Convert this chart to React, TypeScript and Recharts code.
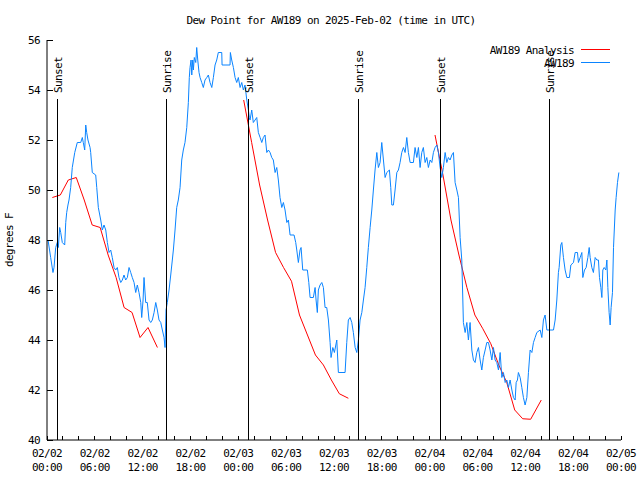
import React from 'react';
import { LineChart, Line, XAxis, YAxis, ReferenceLine } from 'recharts';

// ---- Data (hours since 2025-02-02 00:00 UTC) ----
const obsHours = [
  0.13, 0.46, 0.75, 0.88, 1.09, 1.29, 1.42, 1.59, 1.72, 1.92, 2.22, 2.35, 2.47, 2.63, 2.76, 2.97,
  3.17, 3.48, 3.8, 4.02, 4.23, 4.43, 4.55, 4.73, 4.86, 4.98, 5.14, 5.4, 5.48, 5.68, 6.11, 6.24,
  6.44, 6.74, 6.94, 7.15, 7.37, 7.57, 7.78, 7.99, 8.19, 8.41, 8.62, 8.82, 9.03, 9.25, 9.45, 9.66,
  9.87, 10.08, 10.29, 10.5, 10.7, 10.92, 11.13, 11.33, 11.54, 11.76, 11.88, 12.05, 12.17, 12.38,
  12.58, 12.8, 13.01, 13.21, 13.43, 13.64, 13.84, 14.05, 14.27, 14.47, 14.68, 14.81, 14.93, 15.09,
  15.31, 15.52, 15.72, 15.85, 16.06, 16.27, 16.47, 16.69, 16.9, 17.1, 17.31, 17.53, 17.73, 17.85,
  17.94, 18.07, 18.16, 18.28, 18.36, 18.48, 18.66, 18.78, 18.91, 19.07, 19.2, 19.41, 19.61, 19.82,
  20.04, 20.24, 20.45, 20.67, 20.87, 21.08, 21.29, 21.49, 21.92, 21.96, 22.96, 23.0, 23.17, 23.38,
  23.59, 23.8, 24.0, 24.22, 24.43, 24.63, 24.84, 25.06, 25.26, 25.38, 25.47, 25.68, 25.88, 26.1,
  26.31, 26.51, 26.73, 26.94, 27.14, 27.35, 27.57, 27.77, 27.98, 28.19, 28.39, 28.61, 28.82, 29.02,
  29.23, 29.45, 29.65, 29.86, 30.08, 30.28, 30.49, 30.99, 31.2, 31.33, 31.53, 31.74, 31.87, 32.08,
  32.66, 32.84, 33.0, 33.41, 33.63, 33.75, 33.91, 34.04, 34.25, 34.47, 34.67, 34.88, 35.09, 35.3,
  35.51, 35.63, 35.85, 36.05, 36.35, 36.55, 37.39, 37.6, 37.8, 38.02, 38.23, 38.43, 38.65, 38.86,
  39.06, 39.27, 39.49, 39.69, 39.9, 40.11, 40.31, 40.53, 40.74, 40.94, 41.15, 41.37, 41.57, 41.78,
  41.99, 42.2, 42.41, 42.62, 42.95, 43.12, 43.25, 43.45, 43.66, 43.88, 44.08, 44.29, 44.5, 44.71,
  44.92, 45.13, 45.33, 45.55, 45.96, 46.17, 46.39, 46.59, 46.8, 47.01, 47.21, 47.43, 47.64, 47.84,
  48.06, 48.27, 48.47, 48.68, 48.9, 49.1, 49.31, 49.52, 49.72, 49.94, 50.15, 50.35, 50.56, 50.78,
  50.98, 51.19, 51.41, 51.61, 51.82, 52.03, 52.16, 52.23, 52.45, 52.66, 52.86, 53.07, 53.29, 53.49,
  53.7, 53.91, 54.12, 54.33, 54.54, 54.74, 54.96, 55.17, 55.37, 55.58, 55.8, 56.0, 56.21, 56.42,
  56.63, 56.84, 57.05, 57.25, 57.47, 57.68, 57.88, 58.09, 58.31, 58.51, 58.72, 58.85, 59.01, 59.13,
  59.35, 59.56, 59.76, 59.97, 60.19, 60.39, 60.6, 60.82, 61.02, 61.23, 61.44, 61.86, 62.07, 62.27,
  62.48, 62.7, 63.53, 63.74, 63.95, 64.15, 64.24, 64.45, 64.58, 64.78, 64.99, 65.21, 65.53, 65.71,
  66.04, 66.25, 66.54, 66.66, 66.88, 67.09, 67.21, 67.42, 67.63, 67.84, 68.01, 68.13, 68.34, 68.54,
  68.76, 68.97, 69.17, 69.3, 69.47, 69.6, 69.72, 69.89, 70.1, 70.23, 70.35, 70.51, 70.64, 70.76,
  70.93, 71.06, 71.27, 71.39, 71.56, 71.73,
];
const obsValues = [
  48.0, 47.3, 46.7, 46.9, 47.7, 47.9, 47.7, 48.5, 48.3, 47.9, 47.8, 48.7, 49.1, 49.4, 49.6, 50.1,
  50.9, 51.5, 51.9, 51.9, 51.9, 52.1, 51.9, 51.6, 52.6, 52.3, 52.0, 51.7, 51.5, 50.7, 50.6, 50.1,
  49.3, 48.8, 48.4, 48.6, 48.4, 47.9, 47.5, 47.6, 47.3, 46.9, 46.8, 46.9, 46.5, 46.3, 46.4, 46.6,
  46.4, 46.5, 46.9, 46.7, 46.5, 46.3, 45.9, 46.2, 45.9, 45.5, 44.9, 45.6, 46.5, 45.5,
  45.5, 44.8, 44.7, 44.8, 45.1, 45.5, 45.2, 44.8, 44.7, 44.4, 44.1, 43.7, 45.2, 45.5,
  46.0, 46.6, 47.2, 47.6, 48.4, 49.3, 49.6, 50.1, 51.2, 51.6, 51.9, 52.5, 53.5, 54.5,
  54.9, 55.2, 54.6, 55.2, 54.8, 55.3, 55.1, 55.7, 55.2, 54.7, 54.5, 54.3, 54.1, 54.4,
  54.5, 54.6, 54.3, 54.1, 54.5, 55.0, 55.2, 55.5, 55.5, 55.0, 55.0, 55.5, 55.2, 54.9,
  54.5, 54.3, 54.5, 54.1, 54.3, 54.0, 54.2, 53.6, 53.2, 52.9, 52.8, 53.2, 52.7, 52.8,
  52.9, 52.3, 52.1, 51.9, 52.1, 52.2, 51.5, 51.6, 51.5, 51.3, 51.2, 50.7, 50.9, 50.4,
  49.7, 49.3, 49.5, 49.2, 48.7, 48.8, 48.2, 48.2, 47.9, 47.6, 47.1, 47.6, 47.7, 46.8,
  46.8, 46.3, 45.7, 45.7, 46.1, 45.6, 45.1, 46.0, 46.2, 46.3, 46.1, 45.3, 45.3, 44.8,
  43.9, 43.3, 43.7, 43.5, 44.0, 42.7, 42.7, 43.9, 44.8, 44.9, 44.7, 44.3, 43.7, 43.5,
  44.0, 44.8, 45.1, 45.6, 46.1, 46.9, 47.7, 48.5, 49.2, 50.0, 50.8, 51.5, 50.9, 51.1,
  51.9, 51.2, 50.5, 50.7, 50.8, 50.1, 49.4, 49.4, 50.0, 50.7, 50.8, 51.1, 51.5, 51.7,
  51.5, 52.1, 51.5, 51.1, 51.1, 51.7, 51.3, 51.7, 50.9, 51.5, 51.7, 51.1, 51.3, 50.9,
  51.2, 51.1, 51.5, 51.7, 51.8, 51.5, 50.9, 50.5, 50.9, 51.5, 51.1, 51.3, 51.2, 51.4,
  51.5, 50.3, 50.0, 49.7, 48.1, 47.2, 45.6, 44.7, 44.3, 44.7, 44.0, 44.7, 43.6, 43.2,
  43.1, 43.5, 43.7, 43.2, 42.8, 43.3, 43.6, 43.9, 43.9, 43.6, 43.2, 43.7, 43.2, 43.1,
  42.8, 43.5, 42.5, 42.7, 42.3, 42.4, 42.1, 42.4, 42.0, 41.7, 41.6, 42.3, 42.4, 42.7,
  42.5, 42.1, 41.7, 41.4, 41.7, 42.7, 43.6, 43.5, 43.9, 44.1, 44.3, 44.4, 44.1, 44.8,
  45.0, 44.4, 44.4, 44.8, 45.6, 46.7, 46.9, 47.8, 47.9, 47.3, 46.8, 46.5, 46.5, 47.0,
  47.1, 47.5, 47.5, 47.1, 47.3, 47.5, 46.5, 46.8, 46.9, 47.3, 47.7, 47.3, 46.9, 46.7,
  47.3, 47.2, 47.2, 46.5, 46.1, 45.7, 46.8, 46.9, 46.8, 47.2, 46.1, 45.1, 44.6, 45.3,
  45.9, 47.7, 49.2, 49.7, 50.3, 50.7,
];

const analysisHours1 = [0.67, 1.67, 2.67, 3.67, 4.67, 5.67, 6.67, 7.67, 8.67, 9.67, 10.67, 11.67, 12.67, 13.85];
const analysisValues1 = [49.7, 49.8, 50.4, 50.5, 49.6, 48.6, 48.5, 47.4, 46.5, 45.3, 45.1, 44.1, 44.5, 43.7];
const analysisHours2 = [24.67, 25.67, 26.67, 27.67, 28.67, 29.67, 30.67, 31.67, 32.67, 33.67, 34.67, 35.67, 36.67, 37.8];
const analysisValues2 = [53.6, 51.9, 50.2, 48.8, 47.5, 46.9, 46.35, 45.0, 44.2, 43.4, 43.0, 42.4, 41.85, 41.67];
const analysisHours3 = [48.67, 49.67, 50.67, 51.67, 52.67, 53.67, 54.67, 55.67, 56.67, 57.67, 58.67, 59.67, 60.67, 62.0];
const analysisValues3 = [52.2, 50.6, 48.8, 47.4, 46.1, 45.0, 44.45, 43.85, 43.0, 42.3, 41.2, 40.85, 40.83, 41.6];

const sunHours = [1.29, 14.97, 25.26, 39.06, 49.35, 63.02];
const sunLabels = ['Sunset', 'Sunrise', 'Sunset', 'Sunrise', 'Sunset', 'Sunrise'];
const sunLineTop = 53.64;

const xTicks = [0, 2, 4, 6, 8, 10, 12, 14, 16, 18, 20, 22, 24, 26, 28, 30, 32, 34, 36, 38, 40, 42, 44, 46, 48, 50, 52, 54, 56, 58, 60, 62, 64, 66, 68, 70, 72];
const xLabelHours = [0, 6, 12, 18, 24, 30, 36, 42, 48, 54, 60, 66, 72];
const xLabelDates = ['02/02', '02/02', '02/02', '02/02', '02/03', '02/03', '02/03', '02/03', '02/04', '02/04', '02/04', '02/04', '02/05'];
const xLabelTimes = ['00:00', '06:00', '12:00', '18:00', '00:00', '06:00', '12:00', '18:00', '00:00', '06:00', '12:00', '18:00', '00:00'];
const yTicks = [40, 42, 44, 46, 48, 50, 52, 54, 56];

const title = 'Dew Point for AW189 on 2025-Feb-02 (time in UTC)';
const yLabel = 'degrees F';
const seriesNames = ['AW189 Analysis', 'AW189'];
const RED = '#ff0000';
const BLUE = '#0a84ff';

const FONT = "'DejaVu Sans Mono', monospace";
const FS = 11;
const LS = -0.6;

const toRows = (hs: number[], vs: number[]) => hs.map((t, i) => ({ t, v: vs[i] }));
const obsData = toRows(obsHours, obsValues);
const an1 = toRows(analysisHours1, analysisValues1);
const an2 = toRows(analysisHours2, analysisValues2);
const an3 = toRows(analysisHours3, analysisValues3);

const txt = { fontFamily: FONT, fontSize: FS, letterSpacing: LS, fill: '#000' } as const;

const BottomTick = (p: any) => {
  const { x, y, payload } = p;
  const idx = xLabelHours.indexOf(payload.value);
  return (
    <g>
      <line x1={x} x2={x} y1={y} y2={y - 4} stroke="#000" shapeRendering="crispEdges" />
      {idx >= 0 && (
        <>
          <text x={x} y={y + 17} textAnchor="middle" {...txt}>{xLabelDates[idx]}</text>
          <text x={x} y={y + 31} textAnchor="middle" {...txt}>{xLabelTimes[idx]}</text>
        </>
      )}
    </g>
  );
};
const TopTick = (p: any) => {
  const { x, y } = p;
  return <line x1={x} x2={x} y1={y} y2={y + 4} stroke="#000" shapeRendering="crispEdges" />;
};
const LeftTick = (p: any) => {
  const { x, y, payload } = p;
  return (
    <g>
      <line x1={x} x2={x + 6} y1={y} y2={y} stroke="#000" shapeRendering="crispEdges" />
      <text x={x - 7} y={y + 4} textAnchor="end" {...txt}>{payload.value}</text>
    </g>
  );
};
const RightTick = (p: any) => {
  const { x, y } = p;
  return <line x1={x} x2={x - 6} y1={y} y2={y} stroke="#000" shapeRendering="crispEdges" />;
};

const sunLabel = (text: string) => (p: any) => {
  const vb = p.viewBox || {};
  const lx = vb.x + 5;
  const ly = vb.y - 6;
  return (
    <text x={lx} y={ly} transform={`rotate(-90 ${lx} ${ly})`} textAnchor="start" {...txt}>
      {text}
    </text>
  );
};

export default function App() {
  return (
    <div style={{ position: 'absolute', left: 0, top: 0, width: 640, height: 480, background: '#fff' }}>
      <LineChart width={640} height={480} margin={{ top: 40, right: 19, bottom: 10, left: 8 }}>
        <XAxis
          xAxisId={0}
          dataKey="t"
          type="number"
          domain={[0, 72]}
          ticks={xTicks}
          interval={0}
          height={30}
          tickSize={0}
          tickMargin={0}
          tick={BottomTick}
          tickLine={false}
          axisLine={{ stroke: '#000' }}
          allowDataOverflow
        />
        <XAxis
          xAxisId="top"
          orientation="top"
          dataKey="t"
          type="number"
          domain={[0, 72]}
          ticks={xTicks}
          interval={0}
          height={0}
          tickSize={0}
          tickMargin={0}
          tick={TopTick}
          tickLine={false}
          axisLine={{ stroke: '#000' }}
          allowDataOverflow
        />
        <YAxis
          yAxisId={0}
          type="number"
          domain={[40, 56]}
          ticks={yTicks}
          interval={0}
          width={39}
          tickSize={0}
          tickMargin={0}
          tick={LeftTick}
          tickLine={false}
          axisLine={{ stroke: '#000' }}
          allowDataOverflow
        />
        <YAxis
          yAxisId="right"
          orientation="right"
          type="number"
          domain={[40, 56]}
          ticks={yTicks}
          interval={0}
          width={0}
          tickSize={0}
          tickMargin={0}
          tick={RightTick}
          tickLine={false}
          axisLine={{ stroke: '#000' }}
          allowDataOverflow
        />
        {[an1, an2, an3].map((d, i) => (
          <Line
            key={'an' + i}
            data={d}
            dataKey="v"
            type="linear"
            stroke={RED}
            strokeWidth={1}
            dot={false}
            activeDot={false}
            isAnimationActive={false}
            name={seriesNames[0]}
          />
        ))}
        <Line
          data={obsData}
          dataKey="v"
          type="linear"
          stroke={BLUE}
          strokeWidth={1}
          dot={false}
          activeDot={false}
          isAnimationActive={false}
          name={seriesNames[1]}
        />
        {sunHours.map((h, i) => (
          <ReferenceLine
            key={'sun' + i}
            segment={[{ x: h, y: sunLineTop }, { x: h, y: 40 }]}
            stroke="#000"
            strokeWidth={1}
            shapeRendering="crispEdges"
            label={sunLabel(sunLabels[i])}
          />
        ))}
      </LineChart>
      <svg width={640} height={480} style={{ position: 'absolute', left: 0, top: 0, pointerEvents: 'none' }}>
        <text x={331} y={24} textAnchor="middle" {...txt}>{title}</text>
        <text x={13} y={240} textAnchor="middle" transform="rotate(-90 13 240)" {...txt}>{yLabel}</text>
        <text x={574} y={54} textAnchor="end" {...txt}>{seriesNames[0]}</text>
        <line x1={581} x2={610} y1={49.5} y2={49.5} stroke={RED} />
        <text x={574} y={66.5} textAnchor="end" {...txt}>{seriesNames[1]}</text>
        <line x1={581} x2={610} y1={62.5} y2={62.5} stroke={BLUE} />
      </svg>
    </div>
  );
}
